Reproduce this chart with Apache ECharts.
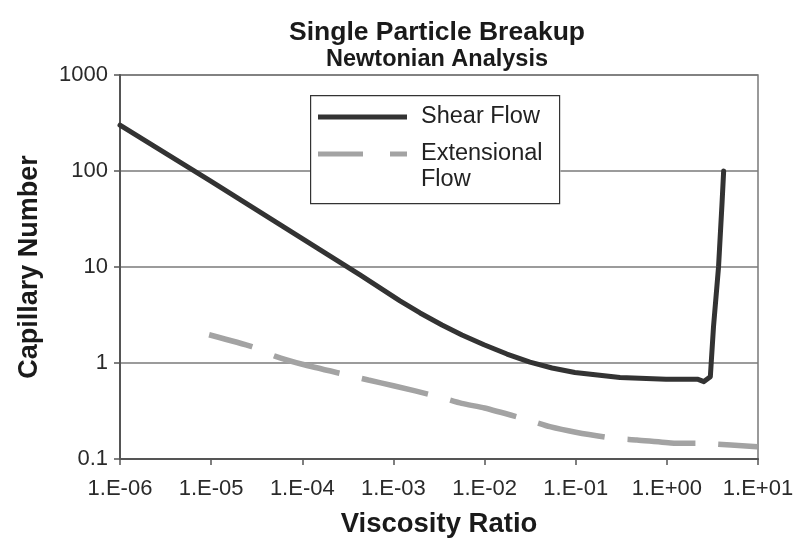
<!DOCTYPE html>
<html><head><meta charset="utf-8">
<script src="https://cdn.jsdelivr.net/npm/echarts@6/dist/echarts.min.js"></script>
<style>html,body{margin:0;padding:0;background:#fff}#c{width:795px;height:539px}</style>
</head><body><div id="c"></div>
<script>
const titleText = 'Single Particle Breakup';
const subtitleText = 'Newtonian Analysis';
const xName = 'Viscosity Ratio';
const yName = 'Capillary Number';
const xTickLabels = ['1.E-06','1.E-05','1.E-04','1.E-03','1.E-02','1.E-01','1.E+00','1.E+01'];
const yTickLabels = ['0.1','1','10','100','1000'];

const shearName = 'Shear Flow';
const shearX = [1e-6, 1e-5, 1e-4, 4.3e-4, 1.18e-3, 1.96e-3, 3.41e-3, 5.65e-3, 9.86e-3, 1.76e-2, 3.15e-2, 5.5e-2, 9.8e-2, 0.306, 0.98, 2.2, 2.55, 3.0, 3.25, 3.69, 4.03, 4.2];
const shearY = [300, 78, 19.8, 8.26, 4.43, 3.32, 2.49, 1.96, 1.55, 1.24, 1.02, 0.887, 0.796, 0.706, 0.676, 0.676, 0.64, 0.72, 2.39, 10, 46, 100];

const extName = 'Extensional\nFlow';
const extX = [9.5e-6, 2.8e-5, 5e-5, 1e-4, 3.1e-4, 5.3e-4, 1e-3, 3e-3, 5.6e-3, 1e-2, 3e-2, 5.2e-2, 1e-1, 2.6e-1, 4.7e-1, 1.2, 2.75, 9.8];
const extY = [1.97, 1.48, 1.18, 0.97, 0.75, 0.665, 0.58, 0.45, 0.38, 0.34, 0.255, 0.217, 0.19, 0.164, 0.158, 0.146, 0.145, 0.134];

const FONT = '"Liberation Sans", Arial, sans-serif';
const chart = echarts.init(document.getElementById('c'));
chart.setOption({
  animation: false,
  backgroundColor: '#ffffff',
  title: {
    text: titleText,
    subtext: subtitleText,
    left: 432,
    textAlign: 'center',
    top: 14,
    itemGap: 2,
    textStyle: {fontFamily: FONT, fontWeight: 'bold', fontSize: 26.5, color: '#1a1a1a'},
    subtextStyle: {fontFamily: FONT, fontWeight: 'bold', fontSize: 23.5, color: '#1a1a1a'}
  },
  graphic: [{
    type: 'rect', left: 310, top: 95, z: 10, silent: true,
    shape: {width: 249, height: 108},
    style: {fill: 'transparent', stroke: '#333', lineWidth: 1.2}
  }],
  grid: {left: 120, right: 37, top: 75, bottom: 80, outerBoundsMode: 'none', containLabel: false,
    show: true, borderColor: '#7a7a7a', borderWidth: 1.5, backgroundColor: 'transparent'},
  legend: {
    orient: 'vertical',
    left: 310,
    top: 95,
    padding: [9, 18, 10, 8],
    backgroundColor: '#ffffff',
    itemWidth: 89,
    itemHeight: 5,
    itemGap: -15,
    textStyle: {fontFamily: FONT, fontSize: 23.5, color: '#222', lineHeight: 26, padding: [0, 0, 0, 9]},
    formatter: name => (name === extName ? '\n' + name : name),
    data: [
      {name: shearName, icon: 'path://M0,0H89V5H0Z'},
      {name: extName, icon: 'path://M0,0H45V5H0Z M72,0H89V5H72Z'}
    ]
  },
  xAxis: {
    type: 'log', logBase: 10, min: 1e-6, max: 10,
    name: xName, nameLocation: 'middle', nameGap: 51,
    nameTextStyle: {fontFamily: FONT, fontWeight: 'bold', fontSize: 27.5, color: '#1a1a1a'},
    axisLine: {show: true, lineStyle: {color: '#555', width: 2}},
    axisTick: {show: true, inside: false, length: 6, lineStyle: {color: '#555', width: 1.5}},
    axisLabel: {fontFamily: FONT, fontSize: 22, color: '#2a2a2a', margin: 19,
      formatter: v => xTickLabels[Math.round(Math.log10(v)) + 6]},
    splitLine: {show: false},
    minorTick: {show: false}
  },
  yAxis: {
    type: 'log', logBase: 10, min: 0.1, max: 1000,
    name: yName, nameLocation: 'middle', nameGap: 77,
    nameTextStyle: {fontFamily: FONT, fontWeight: 'bold', fontSize: 27, color: '#1a1a1a'},
    axisLine: {show: true, lineStyle: {color: '#555', width: 2}},
    axisTick: {show: true, inside: false, length: 6, lineStyle: {color: '#555', width: 1.5}},
    axisLabel: {fontFamily: FONT, fontSize: 22, color: '#2a2a2a', margin: 12,
      formatter: v => yTickLabels[Math.round(Math.log10(v)) + 1]},
    splitLine: {show: true, lineStyle: {color: '#7a7a7a', width: 1.5}},
    minorTick: {show: false}
  },
  series: [
    {
      name: shearName, type: 'line', symbol: 'none', smooth: false,
      lineStyle: {color: '#333333', width: 5, cap: 'round', join: 'round'},
      itemStyle: {color: '#333333'},
      data: shearX.map((x, i) => [x, shearY[i]])
    },
    {
      name: extName, type: 'line', symbol: 'none', smooth: 0.2,
      lineStyle: {color: '#a3a3a3', width: 5.5, type: [68, 23], dashOffset: 23},
      itemStyle: {color: '#a3a3a3'},
      data: extX.map((x, i) => [x, extY[i]])
    }
  ]
});
</script></body></html>
